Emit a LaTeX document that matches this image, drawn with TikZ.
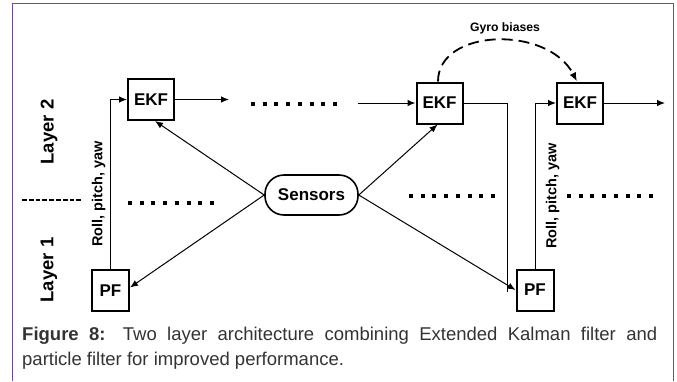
\documentclass[tikz,border=0pt]{standalone}
\usepackage{fontspec}
\setmainfont{Liberation Sans}
\usetikzlibrary{arrows.meta,calc}
\definecolor{framepurple}{RGB}{108,72,170}
\definecolor{captiongray}{RGB}{51,51,51}

\begin{document}
\begin{tikzpicture}[x=1pt,y=-1pt,
  filterbox/.style={draw,line width=2pt,minimum height=41pt,inner sep=0pt,
    font=\fontsize{17}{18}\selectfont\bfseries},
  ekfbox/.style={filterbox,minimum width=46pt},
  pfbox/.style={filterbox,minimum width=37pt},
  sensorbox/.style={draw,line width=1.6pt,rounded corners=19pt,minimum width=93pt,
    minimum height=40pt,inner sep=0pt,font=\fontsize{17}{18}\selectfont\bfseries},
  link/.style={line width=1pt,-{Latex[length=8pt,width=6.5pt]}},
  wire/.style={line width=1pt},
  dotrow/.style={line width=4pt,dash pattern=on 4pt off 7.7pt},
  finedots/.style={line width=2pt,dash pattern=on 4.8pt off 2pt},
  gyro/.style={line width=1.8pt,dash pattern=on 11pt off 6pt,-{Latex[length=9pt,width=7pt]}},
  layerlabel/.style={rotate=90,font=\fontsize{18.5}{20}\selectfont\bfseries},
  anglelabel/.style={rotate=90,font=\fontsize{14.5}{16}\selectfont\bfseries,inner sep=0pt}
]
\useasboundingbox (0,0) rectangle (677,381);

% page frame (open at the bottom)
\draw[framepurple,line width=1.6pt] (12.5,381) -- (12.5,3.5) -- (673.5,3.5) -- (673.5,381);

% filters
\node[ekfbox] (ekf1) at (151,99.5) {EKF};
\node[ekfbox] (ekf2) at (439.5,103) {EKF};
\node[ekfbox] (ekf3) at (580,103) {EKF};
\node[pfbox] (pf1) at (110.5,290.5) {PF};
\node[pfbox] (pf2) at (535,290) {PF};
\node[sensorbox] (sens) at (311.5,195) {Sensors};

% layer names
\node[layerlabel] (layer2) at (49,132) {Layer 2};
\node[layerlabel] (layer1) at (49,270) {Layer 1};

% free ends of the open connectors
\coordinate (out1) at (229,99.5);
\coordinate (in2) at (358,103);
\coordinate (out3) at (665,103);
\coordinate (drop) at (507,292);

% horizontal chain of the EKF layer
\draw[link] (ekf1.east) -- (out1);
\draw[link] (in2) -- (ekf2.west);
\draw[link] (ekf3.east) -- (out3);
\draw[wire] (ekf2.east) -| (drop);

% PF outputs feed the EKFs
\draw[link] (pf1.north) |- (ekf1.west);
\draw[link] (pf2.north) |- (ekf3.west);
\node[anglelabel] (rpy1) at (98.5,194) {Roll, pitch, yaw};
\node[anglelabel] (rpy2) at (552.5,196) {Roll, pitch, yaw};

% sensor measurements
\draw[link] (sens.west) -- ([xshift=4pt]ekf1.south);
\draw[link] (sens.west) -- ([yshift=3pt]pf1.east);
\draw[link] (sens.east) -- ([xshift=-2pt]ekf2.south);
\draw[link] (sens.east) -- (pf2.west);

% gyro bias hand-over
\draw[gyro] ([xshift=-1.5pt]ekf2.north) .. controls (438,28) and (548,25) .. ([xshift=-3pt]ekf3.north);
\node[font=\fontsize{12.2}{14}\selectfont\bfseries] (gyrolabel) at (505,28) {Gyro biases};

% ellipsis rows
\draw[dotrow] (251,104) -- ++(86,0);
\draw[finedots] (22,200) -- (82,200);
\draw[dotrow] (128,203) -- ++(86,0);
\draw[dotrow] (409,196) -- ++(86,0);
\draw[dotrow] (567,196) -- ++(86,0);

% caption
\node[anchor=north west,text width=635pt,inner sep=0pt,align=justify,
  text=captiongray,font=\fontsize{18.5}{25}\selectfont] (caption) at (22,326.5)
  {\textbf{Figure 8:} Two layer architecture combining Extended Kalman filter and\linebreak
   particle filter for improved performance.};
\end{tikzpicture}
\end{document}
